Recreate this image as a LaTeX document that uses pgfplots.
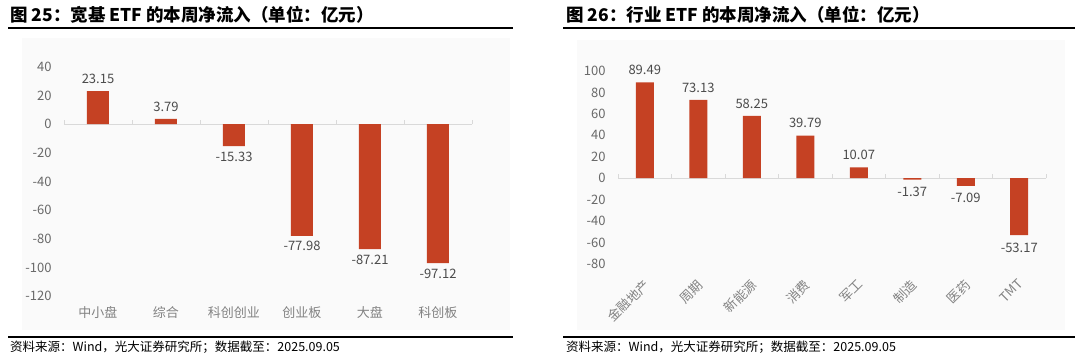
\documentclass[border=0pt]{standalone}
\usepackage{fontspec}
\setmainfont{Noto Sans CJK SC}
\usepackage{pgfplots}
\pgfplotsset{compat=1.18}
\definecolor{barred}{RGB}{197,65,35}
\definecolor{ticklab}{RGB}{105,105,105}
\definecolor{catlab}{RGB}{130,130,130}
\definecolor{datalab}{RGB}{75,75,75}
\definecolor{panelbg}{RGB}{250,250,250}
\pgfplotsset{
  /pgf/number format/assume math mode=true,
  mybars/.style={
    scale only axis, clip=false,
    axis line style={draw=none}, tick style={draw=none},
    ybar, bar shift=0pt,
    yticklabel style={font=\fontsize{13}{13}\selectfont, text=ticklab, xshift=-9pt},
    xticklabel style={font=\fontsize{13}{13}\selectfont, text=catlab},
    every node near coord/.append style={font=\fontsize{13}{13}\selectfont, text=datalab,
      /pgf/number format/fixed, /pgf/number format/fixed zerofill, /pgf/number format/precision=2},
  },
  posbar/.style={fill=barred, draw=none, nodes near coords, nodes near coords align={vertical},
    every node near coord/.append style={yshift=4pt}},
  negbar/.style={fill=barred, draw=none, nodes near coords, nodes near coords align={vertical},
    every node near coord/.append style={yshift=-2pt}},
}
\begin{document}
\begin{tikzpicture}
\path (0pt,0pt) rectangle (1080pt,358pt);
% panel backgrounds
\fill[panelbg] (22pt,28pt) rectangle (510pt,320pt);
\fill[panelbg] (577pt,28pt) rectangle (1065pt,318pt);
% titles
\node[anchor=base west, inner sep=0, font=\fontsize{17.5}{17.5}\selectfont\bfseries] at (10pt,336pt) {图 25：宽基 ETF 的本周净流入（单位：亿元）};
\node[anchor=base west, inner sep=0, font=\fontsize{17.5}{17.5}\selectfont\bfseries] at (566pt,336pt) {图 26：行业 ETF 的本周净流入（单位：亿元）};
\draw[line width=1.5pt] (8pt,330pt) -- (513pt,330pt);
\draw[line width=1.5pt] (563pt,330pt) -- (1075pt,330pt);
\draw[line width=1.2pt] (8pt,21pt) -- (513pt,21pt);
\draw[line width=1.2pt] (563pt,21pt) -- (1075pt,21pt);
\node[anchor=base west, inner sep=0, font=\fontsize{12.5}{12.5}\selectfont] at (10pt,6pt) {资料来源：Wind，光大证券研究所；数据截至：2025.09.05};
\node[anchor=base west, inner sep=0, font=\fontsize{12.5}{12.5}\selectfont] at (566pt,6pt) {资料来源：Wind，光大证券研究所；数据截至：2025.09.05};

% left chart
\begin{axis}[mybars, at={(64pt,62pt)}, anchor=south west, width=408pt, height=229pt,
  xmin=-0.5, xmax=5.5, ymin=-120, ymax=40, ytick={-120,-100,...,40},
  xtick={0,1,2,3,4,5}, xticklabels={中小盘,综合,科创创业,创业板,大盘,科创板},
  xticklabel style={yshift=-3pt},
  bar width=22pt]
\draw[black!15, line width=0.8pt] (axis cs:-0.5,0) -- (axis cs:5.5,0);
\pgfplotsinvokeforeach{-0.5,0.5,1.5,2.5,3.5,4.5,5.5}{
  \draw[black!15, line width=0.8pt] (axis cs:#1,0) -- ++(0pt,4pt);
}
\addplot[posbar] coordinates {(0,23.15) (1,3.79)};
\addplot[negbar] coordinates {(2,-15.33) (3,-77.98) (4,-87.21) (5,-97.12)};
\end{axis}

% right chart
\begin{axis}[mybars, at={(618pt,94pt)}, anchor=south west, width=428pt, height=193pt,
  xmin=-0.5, xmax=7.5, ymin=-80, ymax=100, ytick={-80,-60,...,100},
  xtick={0,1,2,3,4,5,6,7}, xticklabels={金融地产,周期,新能源,消费,军工,制造,医药,TMT},
  xticklabel style={rotate=45, anchor=north east, yshift=-2pt, xshift=-5pt},
  bar width=18pt]
\draw[black!15, line width=0.8pt] (axis cs:-0.5,0) -- (axis cs:7.5,0);
\pgfplotsinvokeforeach{-0.5,0.5,1.5,2.5,3.5,4.5,5.5,6.5,7.5}{
  \draw[black!15, line width=0.8pt] (axis cs:#1,0) -- ++(0pt,4pt);
}
\addplot[posbar] coordinates {(0,89.49) (1,73.13) (2,58.25) (3,39.79) (4,10.07)};
\addplot[negbar, every node near coord/.append style={yshift=-2pt}] coordinates {(5,-1.37) (6,-7.09) (7,-53.17)};
\end{axis}
\end{tikzpicture}
\end{document}
